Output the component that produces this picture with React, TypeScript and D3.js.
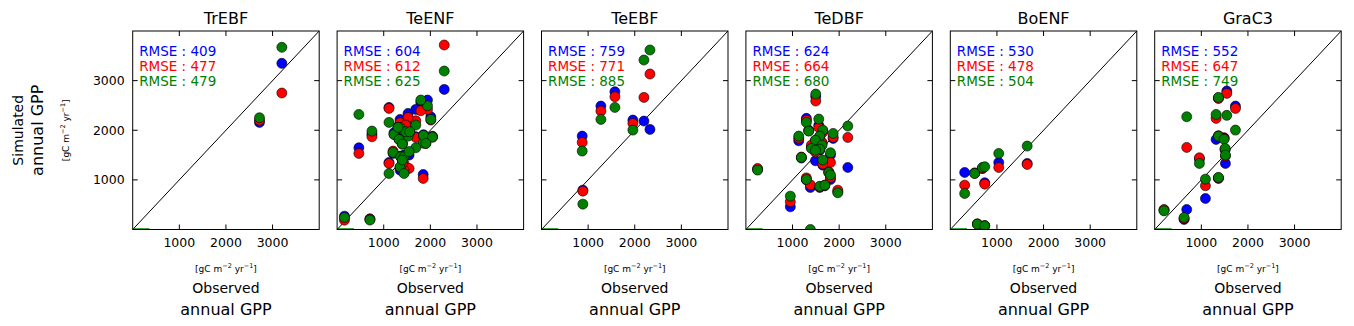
import React from 'react'
import * as d3 from 'd3'

// PFT panels and RMSE per simulation (blue, red, green)
const pfts = ['TrEBF', 'TeENF', 'TeEBF', 'TeDBF', 'BoENF', 'GraC3']
const rmseBlue = [409, 604, 759, 624, 530, 552]
const rmseRed = [477, 612, 771, 664, 478, 647]
const rmseGreen = [479, 625, 885, 680, 504, 749]

const ticks = [1000, 2000, 3000]
const domainMax = 4000
const baseSegment = [0, 360] // short green segment on the x axis

// each row: [observed, blue sim, red sim, green sim]
const trebf = [
  [2719, 2158, 2200, 2252],
  [3199, 3348, 2750, 3671]
]

const teenf = [
  [158, 269, 188, 242],
  [704, 215, 205, 190],
  [467, 1647, 1533, 2319],
  [747, 1920, 1869, 1983],
  [1113, 2460, 2440, 2158],
  [1113, 1350, 1331, 1129],
  [1846, 1109, 1029, 1740],
  [2298, 2823, 3718, 3193],
  [1939, 2608, 2420, 2494],
  [1795, 2560, 2393, 2608],
  [1688, 2420, 2191, 2104],
  [1522, 2339, 2259, 1882],
  [2010, 2270, 2205, 2218],
  [1350, 2218, 2151, 2057],
  [1472, 2150, 2105, 1970],
  [1221, 1950, 1916, 1916],
  [1329, 1840, 1815, 1815],
  [1688, 1870, 1855, 1647],
  [1853, 1910, 1880, 1896],
  [2046, 1880, 1862, 1862],
  [1400, 1740, 1721, 1721],
  [1903, 1760, 1734, 1734],
  [1200, 1533, 1580, 1553],
  [1364, 1480, 1465, 1465],
  [1436, 1500, 1331, 1465],
  [1544, 1499, 1230, 1570],
  [1350, 1197, 1250, 1260],
  [1436, 1150, 1200, 1129],
  [1400, 1380, 1331, 1400],
  [1558, 1990, 1960, 1970],
  [1307, 2070, 2060, 2057]
]

const teebf = [
  [2326, 2017, 3133, 3617],
  [2197, 2185, 2662, 3415],
  [1574, 2776, 2676, 2460],
  [1274, 2487, 2387, 2218],
  [1960, 2205, 2138, 2003],
  [873, 1882, 1755, 1580],
  [887, 793, 773, 511]
]

const tedbf = [
  [1498, 2680, 2588, 2729],
  [1563, 2100, 2057, 2225],
  [1297, 2240, 2200, 2158],
  [1348, 2000, 1990, 1983],
  [1649, 1980, 1960, 2003],
  [1133, 1788, 1840, 1882],
  [1871, 1835, 1860, 1936],
  [2186, 1250, 1855, 2084],
  [1584, 1860, 1870, 1882],
  [1491, 1780, 1790, 1801],
  [1634, 1740, 1755, 1700],
  [1405, 1660, 1700, 1634],
  [1584, 1600, 1610, 1620],
  [1190, 1440, 1460, 1452],
  [1814, 1500, 1351, 1546],
  [1491, 1385, 1560, 1600],
  [1649, 1297, 1320, 1400],
  [1778, 1150, 1160, 1150],
  [1814, 1008, 1050, 1100],
  [1297, 1000, 1040, 1008],
  [1383, 847, 900, 0],
  [1584, 847, 860, 870],
  [1692, 880, 890, 894],
  [1971, 760, 793, 739],
  [251, 1210, 1230, 1197],
  [953, 457, 558, 672]
]

const boenf = [
  [308, 1150, 894, 726],
  [523, 1140, 1135, 1129],
  [688, 1230, 1230, 1250],
  [738, 941, 914, 1264],
  [1039, 1351, 1250, 1533],
  [1649, 1331, 1311, 1681],
  [581, 112, 110, 108],
  [738, 78, 76, 74]
]

const grac3 = [
  [1546, 2790, 2743, 2300],
  [1367, 2650, 2640, 2662],
  [1732, 2487, 2440, 2003],
  [687, 403, 1654, 2272],
  [1317, 1815, 2239, 2319],
  [1367, 1880, 1889, 1880],
  [1488, 1850, 1835, 1820],
  [1510, 1600, 1620, 1634],
  [1517, 1331, 1479, 1499],
  [959, 1420, 1445, 1331],
  [1367, 1029, 1040, 1050],
  [1088, 625, 881, 1015],
  [630, 202, 220, 242],
  [200, 390, 403, 376]
]

const panelData = [trebf, teenf, teebf, tedbf, boenf, grac3]
const colors = ['#0000ff', '#ff0000', '#008000']

const W = 1354
const H = 326
const plotTop = 31
const plotH = 198.5
const font = 'DejaVu Sans, sans-serif'

function Units ({ x, y, rotate }: { x: number, y: number, rotate?: boolean }) {
  return (
    <text x={x} y={y} fontSize={9} textAnchor='middle' fill='#000'
      transform={rotate ? `rotate(-90,${x},${y})` : undefined}>
      [gC m<tspan dy={-4} fontSize={6.5}>−2</tspan><tspan dy={4}> yr</tspan><tspan dy={-4} fontSize={6.5}>−1</tspan><tspan dy={4}>]</tspan>
    </text>
  )
}

export default function App () {
  const panel = d3.scaleBand<string>().domain(pfts).range([132.7, 1341.2]).paddingInner(0.0876).paddingOuter(0)
  const bw = panel.bandwidth()
  const x = d3.scaleLinear().domain([0, domainMax]).range([0, bw])
  const y = d3.scaleLinear().domain([0, domainMax]).range([plotH, 0])
  const midY = plotTop + plotH / 2
  const rmse = [rmseBlue, rmseRed, rmseGreen]

  return (
    <svg width={W} height={H} style={{ position: 'absolute', left: 0, top: 0, background: '#fff' }}
      fontFamily={font}>
      <rect width={W} height={H} fill='#fff' />
      <text x={23} y={midY} fontSize={14} textAnchor='middle' transform={`rotate(-90,23,${midY})`}>Simulated</text>
      <text x={43} y={midY} fontSize={16} textAnchor='middle' transform={`rotate(-90,43,${midY})`}>annual GPP</text>
      <Units x={69} y={midY} rotate />
      {pfts.map((name, pi) => {
        const left = panel(name) as number
        const cx = left + bw / 2
        const rows = panelData[pi]
        return (
          <g key={name}>
            <text x={cx} y={24} fontSize={16} textAnchor='middle'>{name}</text>
            <g transform={`translate(${left},${plotTop})`}>
              <defs>
                <clipPath id={`clip${pi}`}>
                  <rect width={bw} height={plotH} />
                </clipPath>
              </defs>
              <g clipPath={`url(#clip${pi})`}>
                <line x1={x(0)} y1={y(0)} x2={x(domainMax)} y2={y(domainMax)} stroke='#000' strokeWidth={1} />
                <line x1={x(baseSegment[0])} y1={y(0) - 0.5} x2={x(baseSegment[1])} y2={y(0) - 0.5} stroke='#008000' strokeWidth={1.5} />
                {colors.map((c, si) => (
                  <g key={c}>
                    {rows.map((r, i) => (
                      <circle key={i} cx={x(r[0])} cy={y(r[si + 1])} r={5} fill={c} stroke='#000' strokeWidth={0.6} />
                    ))}
                  </g>
                ))}
              </g>
              {ticks.map(t => (
                <g key={t} stroke='#000' strokeWidth={1}>
                  <line x1={x(t)} x2={x(t)} y1={plotH} y2={plotH - 5} />
                  <line x1={x(t)} x2={x(t)} y1={0} y2={5} />
                  <line y1={y(t)} y2={y(t)} x1={0} x2={5} />
                  <line y1={y(t)} y2={y(t)} x1={bw} x2={bw - 5} />
                </g>
              ))}
              {ticks.map(t => (
                <text key={t} x={x(t)} y={plotH + 17} fontSize={12.5} textAnchor='middle'>{t}</text>
              ))}
              {pi === 0 && ticks.map(t => (
                <text key={t} x={-8} y={y(t) + 4.5} fontSize={12.5} textAnchor='end'>{t}</text>
              ))}
              <rect width={bw} height={plotH} fill='none' stroke='#000' strokeWidth={1} />
              {rmse.map((arr, si) => (
                <text key={si} x={6.5} y={25 + si * 15} fontSize={13.5} fill={colors[si]}>RMSE : {arr[pi]}</text>
              ))}
            </g>
            <Units x={cx} y={272} />
            <text x={cx} y={293} fontSize={14} textAnchor='middle'>Observed</text>
            <text x={cx} y={315} fontSize={16} textAnchor='middle'>annual GPP</text>
          </g>
        )
      })}
    </svg>
  )
}
